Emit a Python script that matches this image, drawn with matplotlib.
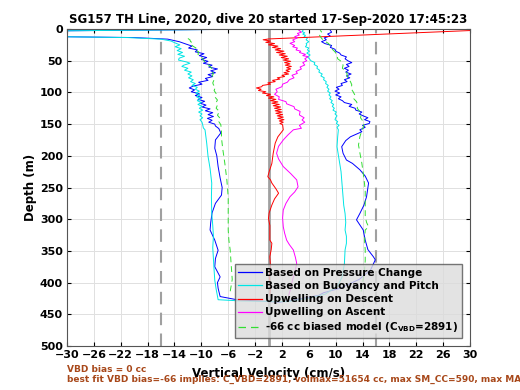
import numpy as np
import matplotlib.pyplot as plt

# ---- data (depth in m, velocity in cm/s) ----
# Based on pressure change, descent + ascent
p_dep = [0, 3, 12, 13.5, 16, 20, 24, 27, 30, 33, 36, 39, 42, 45, 48, 51, 54, 57, 60, 63,
         66, 69, 72, 75, 78, 81, 84, 87, 90, 93, 96, 99, 102, 105, 108, 111, 114, 117, 120,
         123, 126, 129, 132, 135, 138, 141, 144, 147, 150, 153, 157, 164, 175, 188, 200,
         217, 235, 250, 262, 275, 290, 305, 317, 333, 349, 362, 375, 391, 400, 409, 422,
         427, 431,
         425, 420, 416, 409, 395, 380, 364, 359, 348, 333, 317, 301, 291, 278, 264.5, 243,
         232, 222, 212, 206.6, 196, 185.6, 176, 170, 162, 159, 155, 152, 149, 146, 143, 140,
         137, 134, 131, 128, 125, 122, 119, 116, 113, 110, 107, 104, 101, 98, 95, 92, 89, 86,
         83, 80, 77, 74, 71, 68, 65, 62, 59, 56, 53, 50, 47, 44, 41, 38, 35, 32, 29, 26, 23,
         20, 17, 14, 11, 8, 5, 2]
p_vel = [0, -32, -32, -20, -15, -13.3, -12.2, -11.4, -11.9, -10.6, -10.9, -9.6, -10.3, -9.2,
         -10.0, -9.0, -9.7, -8.4, -8.9, -7.6, -8.6, -7.9, -9.0, -8.3, -9.4, -9.0, -10.4, -9.9,
         -11.2, -11.8, -11.0, -11.5, -10.3, -10.9, -9.9, -10.5, -9.5, -10.2, -9.3, -9.9, -8.7,
         -9.4, -8.3, -9.0, -8.2, -9.1, -8.4, -8.9, -8.0, -7.9, -7.4, -7.1, -7.9, -8.0, -7.7,
         -7.5, -7.2, -6.9, -7.0, -7.9, -8.4, -8.6, -8.7, -8.0, -7.5, -7.9, -8.0, -7.2, -7.6,
         -7.5, -7.2, -4.7, 1.7,
         5.0, 7.5, 8.2, 10.6, 13.5, 15.2, 15.9, 15.6, 14.8, 14.4, 14.1, 13.1, 13.6, 14.2, 14.6,
         14.9, 14.4, 13.6, 12.5, 11.6, 11.1, 10.9, 11.5, 12.2, 13.9, 13.6, 14.4, 14.0, 15.0,
         15.1, 14.3, 14.8, 14.1, 13.5, 13.9, 13.0, 12.9, 12.0, 12.4, 11.3, 11.0, 10.4, 10.8,
         10.0, 10.6, 9.9, 10.5, 10.1, 11.0, 10.8, 11.7, 11.3, 12.1, 11.6, 12.3, 11.5, 11.9,
         11.3, 12.0, 11.6, 12.4, 11.8, 11.4, 11.6, 10.8, 10.6, 10.0, 9.9, 9.2, 9.4, 8.4, 7.9,
         8.6, 8.3, 9.2, 8.8, 9.4, 9.2]

# Based on buoyancy and pitch, descent + ascent
b_dep = [0, 3, 12, 13.5, 16, 19, 22, 25, 28, 31, 34, 37, 40, 43, 46, 49, 52, 54, 57, 59, 62,
         65, 68, 71, 74, 77, 80, 83, 86, 89, 92, 95, 98, 101, 104, 107, 110, 113, 116, 119,
         122, 125, 128, 131, 134, 137, 140, 143, 147, 151, 156, 159, 180, 201, 220, 243, 265,
         291, 310, 327, 345, 364, 380, 396, 410, 427, 429, 430,
         425, 418, 405, 390, 370, 348.6, 338, 327, 317, 305, 291, 278, 264.5, 250, 238, 225,
         212, 198, 185.6, 170, 159, 155, 152, 149, 146, 143, 140, 137, 134, 131, 128, 125,
         122, 119, 116, 113, 110, 107, 104, 101, 98, 95, 92, 89, 86, 83, 80, 77, 74, 71, 68,
         65, 62, 59, 56, 53, 50, 47, 44, 41, 38, 35, 33, 30, 28, 25, 23, 20, 17, 14, 12, 10,
         8, 6, 4, 1]
b_vel = [0, -32, -32, -21, -16, -14.5, -13.9, -13.2, -13.9, -13.0, -13.6, -12.8, -13.5, -12.5,
         -13.3, -13.4, -12.2, -11.7, -12.6, -12.9, -12.0, -12.5, -11.5, -12.0, -11.4, -11.9,
         -11.2, -11.6, -10.9, -11.4, -10.6, -10.9, -10.3, -10.8, -10.2, -10.7, -10.1, -10.6,
         -10.0, -10.5, -9.9, -10.3, -9.8, -10.4, -9.9, -10.2, -9.8, -10.2, -9.9, -9.8, -9.7,
         -9.45, -9.2, -9.0, -8.7, -8.45, -8.5, -8.45, -8.3, -8.2, -8.3, -8.2, -8.1, -8.0, -7.8,
         -7.5, -4.0, 2.8,
         6.0, 8.5, 10.3, 11.0, 11.3, 11.4, 11.6, 11.6, 11.4, 11.5, 11.4, 11.2, 11.1, 11.0,
         10.9, 10.8, 10.6, 10.4, 10.2, 10.3, 10.4, 10.2, 10.5, 10.1, 10.3, 9.9, 10.0, 10.2,
         9.9, 10.1, 9.6, 9.8, 9.5, 9.7, 9.3, 9.5, 9.1, 9.3, 9.0, 9.2, 8.8, 9.0, 8.7, 8.9, 8.5,
         8.6, 8.2, 8.3, 7.8, 8.0, 7.5, 7.6, 7.2, 7.3, 6.8, 6.9, 6.3, 6.1, 5.8, 6.2, 5.7, 6.1,
         5.8, 6.0, 5.5, 5.7, 5.6, 6.0, 5.6, 5.8, 5.3, 5.5, 5.1, 5.4, 5.0, 5.2]

# Upwelling on descent
ud_dep = [0, 2, 15.7, 17, 19, 21, 23, 25, 27, 29, 31, 33, 35, 37, 39, 41, 43, 45, 47, 49, 51,
          53, 55, 57, 59, 61, 63, 65, 67, 69, 71, 73, 75, 77, 79, 81, 83, 85, 87, 89, 91, 93,
          95, 97, 99, 101, 103, 105, 107, 109, 111, 113, 115, 117, 119, 121, 123, 125, 127,
          129, 131, 133, 135, 137, 139, 141, 143, 145, 147, 149, 151, 159, 170, 180, 196, 212,
          225, 233, 238, 243, 252, 259, 268, 277.6, 290, 298.6, 310, 317, 333, 338, 348, 359,
          375, 390, 405, 420]
ud_vel = [32, 31, 0, -0.8, 0.3, -0.4, 0.9, 0.0, 1.4, 0.6, 1.8, 1.0, 2.3, 1.2, 2.5, 1.6, 2.8,
          1.9, 3.0, 2.2, 3.3, 2.4, 3.2, 2.5, 3.4, 2.7, 3.3, 2.6, 3.1, 2.3, 3.0, 2.0, 2.4, 1.3,
          1.7, 0.6, 1.0, -0.1, 0.3, -0.9, -1.0, -1.8, -1.1, -1.5, -0.4, -0.9, 0.3, -0.3, 0.8,
          0.0, 1.1, 0.3, 1.4, 0.5, 1.6, 0.7, 1.8, 0.9, 1.9, 1.0, 2.0, 1.1, 2.1, 1.3, 2.2, 1.4,
          2.3, 1.6, 2.2, 1.7, 2.1, 2.2, 1.4, 1.0, 0.7, 0.5, 0.1, -0.1, 0.3, 0.5, 1.1, 1.5, 0.9,
          0.5, 0.1, 0.0, 0.2, 0.2, 0.2, 0.5, 0.4, 0.2, 0.3, 0.1, 0.3, 0.2]

# Upwelling on ascent
ua_dep = [0, 2, 5, 7, 9.5, 12, 14, 17.4, 20, 22.6, 26, 28, 30, 33, 35, 37, 40, 42, 43.6, 47,
          50, 53, 56.8, 60, 63, 67, 70, 73, 77, 80, 84, 87, 91, 95, 99, 103, 107, 111, 114.6,
          118, 122.5, 126, 130, 135.6, 140, 143.5, 147, 152, 156.6, 159, 167, 175, 185, 196,
          205, 217, 228, 238, 249, 257, 264.5, 275, 285.5, 298, 312, 322, 333, 340, 348.6,
          360, 369.6, 380, 395, 410, 420]
ua_vel = [4.9, 4.5, 4.9, 4.3, 4.6, 3.9, 4.3, 3.6, 3.9, 3.2, 3.9, 3.6, 4.3, 4.1, 4.8, 4.6,
          5.5, 5.1, 5.9, 5.4, 5.7, 5.1, 5.4, 4.7, 4.9, 4.1, 4.3, 3.5, 3.8, 3.1, 2.8, 2.1, 2.0,
          1.1, 1.3, 0.9, 1.6, 1.5, 2.6, 2.7, 3.8, 3.9, 4.7, 4.6, 5.3, 5.0, 5.4, 4.6, 4.9, 3.7,
          2.9, 2.2, 1.5, 1.2, 1.5, 2.2, 3.3, 4.2, 4.4, 3.9, 3.2, 2.6, 2.2, 2.1, 2.2, 2.4, 2.7,
          3.1, 3.7, 4.0, 4.2, 4.0, 3.6, 3.3, 3.0]

# -66 cc biased model, descent and ascent
md_dep = [15, 17, 20, 22, 26, 30, 33, 36, 40, 44, 49, 53, 57, 62, 66, 70, 75, 80, 85, 88, 92,
          97, 102, 107, 112, 116, 120, 125, 130, 136, 141, 146, 151, 160, 172, 190, 212, 238,
          265, 291, 317, 333, 349, 365, 380, 395, 414]
md_vel = [-12.0, -11.7, -11.6, -11.2, -11.4, -10.8, -11.0, -10.4, -10.5, -10.0, -9.7, -9.4,
          -8.9, -8.45, -8.6, -8.2, -8.4, -8.1, -8.3, -8.2, -7.9, -8.1, -7.8, -8.0, -7.6, -7.8,
          -7.6, -7.8, -7.3, -7.6, -7.2, -7.4, -7.1, -7.0, -7.0, -6.8, -6.5, -6.2, -6.0, -6.0,
          -6.0, -5.9, -5.7, -5.6, -5.5, -5.4, -5.7]
ma_dep = [414, 395, 380, 365, 348.6, 333, 317, 312, 305, 296, 275, 254, 235, 212, 195, 183,
          170, 160, 152, 146, 140, 135, 130, 125, 120, 114.6, 110, 105, 99, 94, 88, 83, 77, 72,
          67, 62, 57, 51.6, 47, 42, 36, 31, 26, 22.6, 18, 14.7, 10, 6, 2]
ma_vel = [13.8, 14.1, 14.3, 14.4, 14.4, 14.3, 14.4, 14.9, 14.6, 14.4, 14.4, 14.4, 14.2, 13.9,
          13.6, 13.4, 13.6, 13.9, 14.2, 14.1, 13.7, 13.8, 13.6, 13.2, 13.3, 13.1, 12.7, 12.9,
          12.6, 12.3, 12.4, 12.2, 11.8, 11.7, 11.6, 11.0, 11.1, 10.9, 10.3, 10.2, 9.9, 9.4,
          9.2, 8.9, 8.2, 7.9, 7.6, 8.0, 7.7]

xticks = np.arange(-30, 31, 4)
yticks = np.arange(0, 501, 50)

fig = plt.figure(figsize=(5.2, 3.9), dpi=100)
ax = fig.add_axes([67/520, 44/390, 403/520, 317/390])

ax.axvline(0, color='#a0a0a0', lw=2, zorder=1)
ax.axvline(-16, color='#a0a0a0', lw=1.5, ls=(0, (6, 4)), zorder=1)
ax.axvline(16, color='#a0a0a0', lw=1.5, ls=(0, (6, 4)), zorder=1)

ax.plot(p_vel, p_dep, color='#0000ff', lw=0.7, label='Based on Pressure Change')
ax.plot(b_vel, b_dep, color='#00e5e5', lw=0.7, label='Based on Buoyancy and Pitch')
ax.plot(ud_vel, ud_dep, color='#ff0000', lw=0.7, label='Upwelling on Descent')
ax.plot(ua_vel, ua_dep, color='#ff00ff', lw=0.7, label='Upwelling on Ascent')
ax.plot(md_vel, md_dep, color='#33dd33', lw=0.7, ls=(0, (6, 4)),
        label=r'-66 cc biased model (C$_{\mathbf{VBD}}$=2891)')
ax.plot(ma_vel, ma_dep, color='#33dd33', lw=0.7, ls=(0, (6, 4)))

ax.set_xlim(-30, 30)
ax.set_ylim(500, 0)
ax.set_xticks(xticks)
ax.set_yticks(yticks)
ax.grid(True, color='#e0e0e0', lw=0.7)
ax.set_axisbelow(True)
ax.tick_params(direction='in', top=True, right=True, length=3, labelsize=8, pad=3)
for lab in ax.get_xticklabels() + ax.get_yticklabels():
    lab.set_fontweight('bold')
for s in ax.spines.values():
    s.set_color('#555555')
    s.set_linewidth(0.8)

ax.set_title('SG157 TH Line, 2020, dive 20 started 17-Sep-2020 17:45:23',
             fontsize=8.5, fontweight='bold', pad=4)
ax.set_ylabel('Depth (m)', fontsize=8.5, fontweight='bold', labelpad=2)
# the x label overlaps the VBD note in the original too
ax.set_xlabel('Vertical Velocity (cm/s)', fontsize=8.5, fontweight='bold', labelpad=5)

leg = ax.legend(loc='lower right', prop={'weight': 'bold', 'size': 7.5},
                facecolor='#dcdcdc', edgecolor='#555555', framealpha=0.8, fancybox=False,
                handlelength=2.3, borderpad=0.35, labelspacing=0.3, handletextpad=0.3,
                borderaxespad=0, bbox_to_anchor=(0.98, 0.025))
for ln in leg.get_lines():
    ln.set_linewidth(0.9)

fig.text(67/520, 1 - 369/390, 'VBD bias = 0 cc', color='#a8481a', fontsize=6.5,
         fontweight='bold', va='center')
fig.text(67/520, 1 - 379/390,
         'best fit VBD bias=-66 implies: C_VBD=2891, volmax=51654 cc, max SM_CC=590, max MA',
         color='#a8481a', fontsize=6.5, fontweight='bold', va='center')

fig.savefig('out.png', dpi=100)
